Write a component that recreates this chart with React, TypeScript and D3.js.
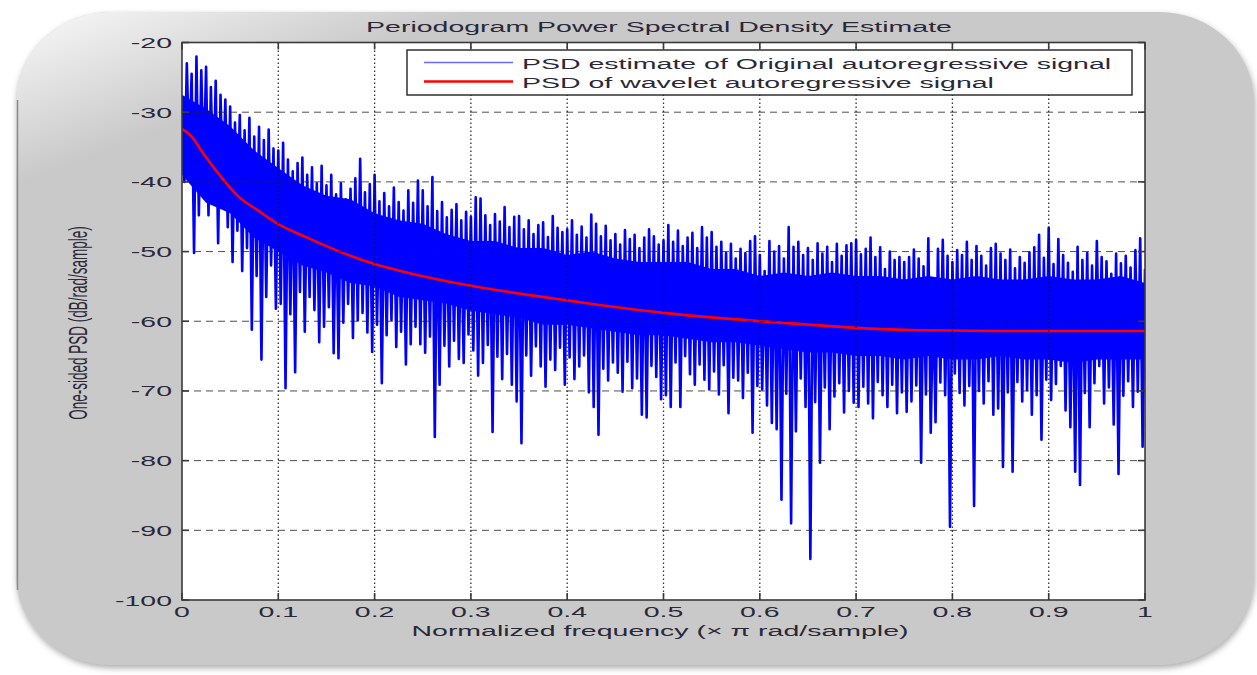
import React from "react";
import * as d3 from "d3";

// ---------- data ----------
const xTicks = [0, 0.1, 0.2, 0.3, 0.4, 0.5, 0.6, 0.7, 0.8, 0.9, 1];
const xTickLabels = ["0", "0.1", "0.2", "0.3", "0.4", "0.5", "0.6", "0.7", "0.8", "0.9", "1"];
const yTicks = [-100, -90, -80, -70, -60, -50, -40, -30, -20];

// PSD estimate of original signal: local maxima (f = i/200) and local minima (f = (i+0.5)/200)
const psdPeaks = [
  -28, -23, -24.5, -22, -24, -23.5, -26.4, -25.5, -27.5, -28.2,
  -29.2, -31.5, -30.4, -32.6, -30.8, -33.5, -32.1, -34, -32.5, -35.2,
  -35.5, -34.4, -36.8, -38.5, -37.3, -36.5, -39, -37.9, -40.2, -37.7,
  -40.5, -39, -41.8, -40.2, -42.5, -41, -39.5, -36.7, -41.5, -40.3,
  -39, -42.8, -41.6, -43.5, -40.8, -42.9, -44.1, -41.2, -43, -39.8,
  -41.2, -43.5, -39.3, -44.2, -42.9, -45.1, -44, -43.2, -45.5, -44.3,
  -45, -42.2, -42.4, -44.8, -46.2, -44.6, -45.7, -43.6, -46.5, -45,
  -44.9, -46.8, -45.5, -47.5, -46.2, -45.8, -47.9, -44.9, -46.6, -47.2,
  -46.8, -45.5, -47.6, -46.4, -48, -44.7, -46, -47.8, -46.3, -48.4,
  -47.5, -49, -46.9, -48.2, -47.6, -49.5, -48, -46.8, -47.8, -49,
  -48.4, -46.2, -48.6, -47, -49.2, -48, -47.3, -49.5, -46.5, -48,
  -47.2, -49.3, -48.6, -50.2, -48.9, -51, -49.6, -50.2, -48.5, -47.8,
  -50.5, -52.8, -48.5, -50, -49.2, -51, -46.5, -49.3, -48.6, -50.5,
  -49.5, -51.2, -48.8, -50.3, -49.3, -51.5, -48.9, -50.6, -49.1, -48.8,
  -48.3, -50.4, -49.6, -48, -50.8, -49.4, -52.5, -50, -51.2, -50.8,
  -51.5, -50.8, -49.7, -51, -52.1, -48.1, -56.5, -49.6, -48.3, -50.6,
  -51.5, -49.8, -50.5, -48.6, -51.2, -49.2, -50.6, -52, -49.5, -48.9,
  -50.3, -51.2, -49.7, -52.4, -50.8, -51.6, -50.1, -49.4, -47.6, -50.9,
  -46.6, -51.8, -48.2, -50.5, -51.6, -52.9, -49.3, -51.2, -50.2, -52,
  -48.5, -50.8, -51.4, -53.2, -50.3, -51.7, -50.6, -52.3, -49.8, -48.1,
  -52.5,
];
const psdTroughs = [
  -40, -36.5, -50.2, -44.8, -38.5, -44.8, -41.5, -48.8, -42, -46.5,
  -51.5, -47, -52.8, -49.5, -61.2, -53.5, -65.5, -56.5, -52, -58.2,
  -57.5, -69.6, -59, -67.3, -55.8, -61.5, -56.5, -58.4, -63, -60.8,
  -58, -64.6, -65.3, -60.2, -57.5, -62.4, -59.9, -58.8, -61.6, -64.4,
  -60.5, -68.9, -62, -59.8, -63.7, -61.5, -66.2, -63.3, -60.8, -63.3,
  -64.5, -62.2, -76.6, -69.1, -63.5, -66.5, -62.8, -65.4, -66, -61.9,
  -64.2, -67.8, -66, -63.4, -75.9, -65.1, -68.3, -64.7, -69.1, -71.5,
  -77.5, -64.9, -67.8, -63.6, -66.5, -69.4, -65.5, -67, -63.8, -69.1,
  -65.2, -68.3, -66.5, -64.9, -70.2, -72.3, -76.3, -66.8, -68.5, -65.9,
  -67.4, -70.1, -65.8, -69.6, -68.2, -73.4, -73.8, -66.4, -68, -71.2,
  -70.6, -72.3, -65.9, -72.3, -65, -67.6, -69.1, -66.2, -68.4, -69.8,
  -67.2, -70.5, -66.3, -73.2, -68.1, -68.5, -71, -67.4, -76, -69.3,
  -69.8, -72.1, -74.6, -75.5, -85.6, -70.4, -89, -75.8, -68.2, -72.3,
  -94.1, -71.6, -80.3, -69.5, -75.5, -70.8, -68.9, -73.1, -70, -71.7,
  -72.3, -69.4, -71.8, -73.9, -68.7, -70.6, -72.3, -69.1, -73.2, -70.2,
  -73, -71.5, -69.2, -80.3, -70.5, -76, -74.5, -68.8, -70.6, -89.5,
  -67.5, -70.3, -72.1, -69.3, -86.5, -70, -71.8, -68.6, -73.4, -72.5,
  -80.9, -70.2, -81.6, -68.7, -71.5, -69.9, -73.4, -70.6, -77, -68.4,
  -71.3, -69, -66.4, -72.8, -75.2, -81.6, -83.5, -70.3, -75.2, -68.9,
  -66.4, -71.8, -69.5, -74.8, -81.9, -70.7, -68.6, -72.3, -70.1, -78,
];
// dense core of the original PSD (f = 0, 0.025, ..., 1)
const coreFreq = [
  0, 0.025, 0.05, 0.075, 0.1, 0.125, 0.15, 0.175, 0.2, 0.225, 0.25, 0.275, 0.3, 0.325, 0.35, 0.375, 0.4, 0.425, 0.45, 0.475, 0.5,
  0.525, 0.55, 0.575, 0.6, 0.625, 0.65, 0.675, 0.7, 0.725, 0.75, 0.775, 0.8, 0.825, 0.85, 0.875, 0.9, 0.925, 0.95, 0.975, 1,
];
const coreTop = [
  -27.5, -29.5, -32, -35.5, -38, -40.5, -42, -42.5, -44.5, -45.5, -46, -47.5, -48.5, -48.5, -49.5, -49.5, -50.5, -50, -51, -51.5, -51.5,
  -51.5, -52.5, -52.5, -53.5, -53, -53.5, -53, -53.5, -53.5, -54, -53.5, -54, -53.5, -54, -54, -53.5, -54, -54, -53.5, -54.5,
];
const coreBottom = [
  -39, -43, -44.5, -48, -50, -52, -53, -54.5, -55, -56.5, -57, -57.5, -58.5, -59, -59.5, -60.5, -60.5, -61, -61.5, -62, -62,
  -62.5, -63, -63, -63.5, -64, -64.5, -64.5, -65, -65, -65.5, -65, -65.5, -65.5, -65, -65.5, -65.5, -66, -65.5, -65.5, -65.5,
];

// PSD of wavelet autoregressive signal
const waveFreq = [0, 0.01, 0.022, 0.04, 0.057, 0.08, 0.098, 0.13, 0.16, 0.2, 0.23, 0.28, 0.33, 0.4, 0.5, 0.6, 0.673, 0.72, 0.766, 0.85, 1.0];
const waveVals = [-32.4, -33.5, -35.9, -39.2, -41.9, -44.2, -45.9, -48, -49.8, -51.8, -52.9, -54.4, -55.6, -57, -58.8, -60, -60.7, -61.1, -61.3, -61.4, -61.4];

const titleText = "Periodogram Power Spectral Density Estimate";
const xLabel = "Normalized frequency (\u00d7 \u03c0 rad/sample)";
const yLabel = "One-sided PSD (dB/rad/sample)";
const legendLabels = ["PSD estimate of Original autoregressive signal", "PSD of wavelet autoregressive signal"];

// ---------- layout ----------
const W = 1257;
const H = 675;
const left = 182, right = 1145, top = 42.5, bottom = 600;
const FONT = "'Liberation Sans', Arial, Helvetica, sans-serif";
const SX = 1.9;
const TXT = "#2b2838";

export default function App() {
  const x = d3.scaleLinear().domain([0, 1]).range([left, right]);
  const y = d3.scaleLinear().domain([-100, -20]).range([bottom, top]);

  const pts: [number, number][] = [];
  psdPeaks.forEach((v, i) => {
    pts.push([i / 200, v]);
    if (i < psdTroughs.length) pts.push([(i + 0.5) / 200, psdTroughs[i]]);
  });
  const bluePath = d3.line<[number, number]>().x(d => x(d[0])).y(d => y(d[1]))(pts) || "";
  const coreArea = d3.area<number>()
    .x((_, i) => x(coreFreq[i]))
    .y0((_, i) => y(coreBottom[i]))
    .y1((_, i) => y(coreTop[i]))(coreFreq) || "";
  const redPath = d3.line<number>()
    .x((_, i) => x(waveFreq[i]))
    .y(d => y(d))
    .curve(d3.curveMonotoneX)(waveVals) || "";

  const tickLen = 7;

  return (
    <svg width={W} height={H} style={{ position: "absolute", left: 0, top: 0, display: "block" }}>
      <defs>
        <filter id="sh" x="-5%" y="-5%" width="110%" height="115%">
          <feDropShadow dx="1" dy="3" stdDeviation="3" floodColor="#888" floodOpacity="0.7" />
        </filter>
        <linearGradient id="hl" x1="0" y1="0" x2="0.25" y2="0.35">
          <stop offset="0" stopColor="#ffffff" stopOpacity="0.9" />
          <stop offset="0.5" stopColor="#ffffff" stopOpacity="0" />
        </linearGradient>
        <clipPath id="plotclip">
          <rect x={left} y={top} width={right - left} height={bottom - top} />
        </clipPath>
      </defs>
      <rect x={0} y={0} width={W} height={H} fill="#ffffff" />
      <rect x={16} y={12} width={1238} height={653} rx={95} ry={90} fill="#c9c9c9" filter="url(#sh)" />
      <rect x={16} y={12} width={1238} height={653} rx={95} ry={90} fill="url(#hl)" />
      <line x1={17.5} y1={100} x2={17.5} y2={590} stroke="#8a8a8a" strokeWidth={1.5} />

      {/* plot area */}
      <rect x={left} y={top} width={right - left} height={bottom - top} fill="#ffffff" />

      {/* data */}
      <g clipPath="url(#plotclip)">
        <path d={coreArea} fill="#0000ff" />
        <path d={bluePath} fill="none" stroke="#0000ff" strokeWidth={2.6} strokeLinejoin="round" />
        <path d={redPath} fill="none" stroke="#ff0000" strokeWidth={2.6} />
      </g>

      {/* grid */}
      <g>
        {yTicks.filter(v => v > -100 && v < -20).map(v => (
          <line key={"hy" + v} x1={left} x2={right} y1={y(v)} y2={y(v)} stroke="#222" strokeWidth={1} strokeDasharray="7,5" strokeOpacity={0.8} />
        ))}
        {xTicks.filter(v => v > 0 && v < 1).map(v => (
          <line key={"vx" + v} x1={x(v)} x2={x(v)} y1={top} y2={bottom} stroke="#111" strokeWidth={1.3} strokeDasharray="1.5,2.5" strokeOpacity={0.85} />
        ))}
      </g>

      {/* box and ticks */}
      <rect x={left} y={top} width={right - left} height={bottom - top} fill="none" stroke="#3a3a3a" strokeWidth={1.6} />
      {xTicks.map(v => (
        <g key={"xt" + v}>
          <line x1={x(v)} x2={x(v)} y1={bottom} y2={bottom - tickLen} stroke="#3a3a3a" strokeWidth={1.6} />
          <line x1={x(v)} x2={x(v)} y1={top} y2={top + tickLen} stroke="#3a3a3a" strokeWidth={1.6} />
        </g>
      ))}
      {yTicks.map(v => (
        <g key={"yt" + v}>
          <line x1={left} x2={left + tickLen} y1={y(v)} y2={y(v)} stroke="#3a3a3a" strokeWidth={1.6} />
          <line x1={right} x2={right - tickLen} y1={y(v)} y2={y(v)} stroke="#3a3a3a" strokeWidth={1.6} />
        </g>
      ))}

      {/* tick labels */}
      {xTicks.map((v, i) => (
        <text key={"xl" + v} transform={`translate(${x(v)},${bottom + 17}) scale(${SX},1)`} textAnchor="middle" fontFamily={FONT} fontSize={15} fill={TXT}>
          {xTickLabels[i]}
        </text>
      ))}
      {yTicks.map(v => (
        <text key={"yl" + v} transform={`translate(${left - 10},${y(v) + 5.5}) scale(${SX},1)`} textAnchor="end" fontFamily={FONT} fontSize={15} fill={TXT}>
          {String(v)}
        </text>
      ))}

      {/* title & axis labels */}
      <text transform={`translate(659,32) scale(${SX},1)`} textAnchor="middle" fontFamily={FONT} fontSize={15} fill={TXT}>{titleText}</text>
      <text transform={`translate(660,636) scale(${SX},1)`} textAnchor="middle" fontFamily={FONT} fontSize={15} fill={TXT}>{xLabel}</text>
      <text transform={`translate(87,323) scale(${SX},1) rotate(-90)`} textAnchor="middle" fontFamily={FONT} fontSize={13.5} fill={TXT}>{yLabel}</text>

      {/* legend */}
      <g>
        <rect x={407} y={50} width={725} height={45} fill="#ffffff" stroke="#222" strokeWidth={1.4} />
        <line x1={424} x2={513} y1={62.5} y2={62.5} stroke="#6a6aff" strokeWidth={1.6} />
        <line x1={424} x2={513} y1={81.5} y2={81.5} stroke="#ff0000" strokeWidth={2.6} />
        <text transform={`translate(522,68.5) scale(${SX},1)`} fontFamily={FONT} fontSize={15} fill={TXT}>{legendLabels[0]}</text>
        <text transform={`translate(522,87.5) scale(${SX},1)`} fontFamily={FONT} fontSize={15} fill={TXT}>{legendLabels[1]}</text>
      </g>
    </svg>
  );
}
